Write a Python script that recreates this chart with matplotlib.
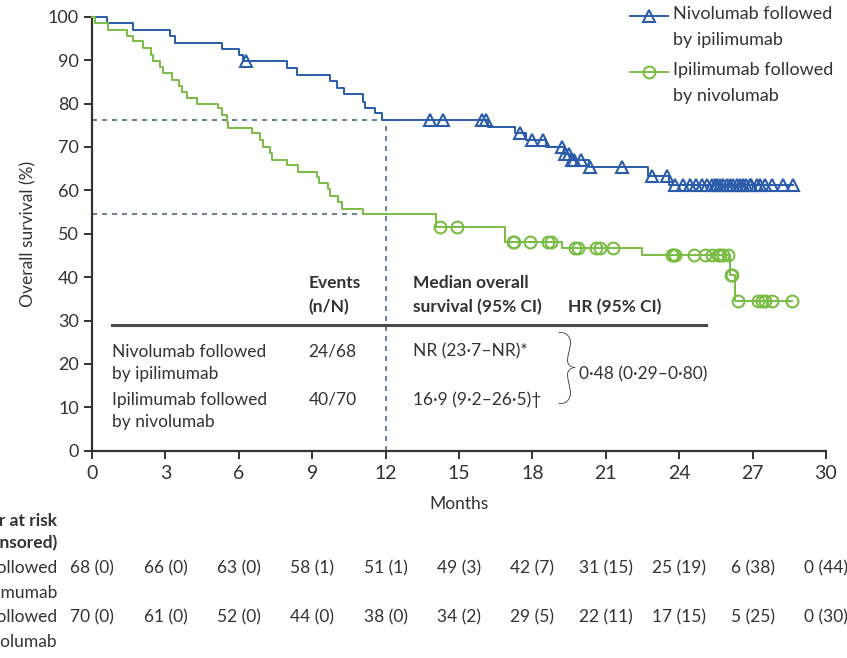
import matplotlib

matplotlib.use("Agg")
import matplotlib.pyplot as plt
import matplotlib.transforms as mtransforms
from matplotlib.lines import Line2D
import numpy as np

plt.rcParams["font.family"] = ["Lato", "DejaVu Sans"]

# Kaplan-Meier steps (months, survival %)
nivo_t = [0, 0.6, 1.69, 3.19, 3.39, 5.3, 6.02, 6.18, 7.96, 8.37, 9.73, 10.0, 10.3,
          11.06, 11.16, 11.57, 11.84, 16.2, 17.29, 17.75, 18.55, 19.3, 19.55, 20.3,
          22.74, 23.6, 28.66]
nivo_s = [100, 98.5, 96.9, 95.5, 94.0, 92.5, 91.2, 89.7, 88.1, 86.6, 85.2, 83.6, 82.1,
          80.4, 79.0, 77.7, 76.2, 74.6, 73.1, 71.6, 69.9, 68.4, 66.9, 65.4,
          63.3, 61.2, 61.2]
nivo_cens = [6.3, 13.8, 14.35, 15.95, 16.1, 17.5, 17.97, 18.44, 19.2, 19.35, 19.5,
             19.6, 19.7, 20.0, 20.35, 21.65, 22.88, 23.5, 23.83, 24.17, 24.44, 24.7,
             24.92, 25.12, 25.33, 25.45, 25.53, 25.65, 25.8, 25.95, 26.07, 26.2,
             26.35, 26.5, 26.62, 26.75, 26.89, 26.95, 27.16, 27.3, 27.5, 27.78,
             28.25, 28.66]

ipi_t = [0, 0.12, 0.67, 1.42, 1.69, 2.1, 2.4, 2.48, 2.78, 2.91, 3.26, 3.57, 3.67,
         3.87, 4.28, 5.16, 5.3, 5.5, 5.57, 6.53, 6.87, 6.98, 7.27, 7.34, 7.96, 8.43,
         9.18, 9.29, 9.66, 9.73, 10.07, 10.2, 11.06, 14.05, 16.88, 19.2, 22.5,
         26.07, 26.3, 28.6]
ipi_s = [100, 98.5, 97.0, 95.6, 94.3, 92.7, 91.2, 89.8, 88.3, 87.0, 85.4, 84.0, 82.7,
         81.3, 80.0, 78.9, 77.4, 75.8, 74.3, 73.1, 71.6, 70.0, 68.5, 67.1, 65.8, 64.3,
         63.1, 61.6, 60.2, 58.7, 57.4, 55.8, 54.5, 51.6, 48.2, 46.8, 45.0,
         40.5, 34.5, 34.5]
ipi_cens = [14.22, 14.9, 17.2, 17.25, 17.9, 18.65, 18.78, 19.74, 19.87, 20.62, 20.76,
            21.3, 23.69, 23.75, 23.83, 24.6, 25.07, 25.33, 25.6, 25.65, 25.8, 26.0,
            26.1, 26.15, 26.4, 27.24, 27.38, 27.51, 27.78, 28.6]

# survival at 12 months (dashed guides)
nivo_12 = 76.2
ipi_12 = 54.5

# numbers at risk (number censored)
risk_months = [0, 3, 6, 9, 12, 15, 18, 21, 24, 27, 30]
nivo_risk = [68, 66, 63, 58, 51, 49, 42, 31, 25, 6, 0]
nivo_risk_cens = [0, 0, 0, 1, 1, 3, 7, 15, 19, 38, 44]
ipi_risk = [70, 61, 52, 44, 38, 34, 29, 22, 17, 5, 0]
ipi_risk_cens = [0, 0, 0, 0, 0, 2, 5, 11, 15, 25, 30]

blue = "#2a5caa"
green = "#7abd45"
dash_col = "#4d6c89"
dark = "#333333"


def step_value(times, surv, x):
    idx = np.searchsorted(times, x, side="right") - 1
    return np.asarray(surv)[idx]


fig = plt.figure(figsize=(8.47, 6.58), dpi=100)
ax = fig.add_axes([0.1086, 0.315, 0.8666, 0.6596])

# dashed guides at 12 months
ax.plot([0, 12], [nivo_12, nivo_12], ls=(0, (3, 3)), color=dash_col, lw=1.2, zorder=1)
ax.plot([0, 12], [ipi_12, ipi_12], ls=(0, (3, 3)), color=dash_col, lw=1.2, zorder=1)
ax.plot([12, 12], [0, nivo_12], ls=(0, (3, 3)), color=dash_col, lw=1.2, zorder=1)

# curves
ax.step(nivo_t, nivo_s, where="post", color=blue, lw=1.4, zorder=3, clip_on=False)
ax.step(ipi_t, ipi_s, where="post", color=green, lw=1.4, zorder=3, clip_on=False)

ax.plot(nivo_cens, step_value(nivo_t, nivo_s, nivo_cens), ls="none", marker="^",
        ms=9, mfc="none", mec=blue, mew=1.5, zorder=4, clip_on=False)
ax.plot(ipi_cens, step_value(ipi_t, ipi_s, ipi_cens), ls="none", marker="o",
        ms=8.5, mfc="none", mec=green, mew=1.5, zorder=4, clip_on=False)

ax.set_xlim(0, 30)
ax.set_ylim(0, 100)
ax.set_xticks(np.arange(0, 31, 3))
ax.set_yticks(np.arange(0, 101, 10))
for side in ["top", "right"]:
    ax.spines[side].set_visible(False)
for side in ["left", "bottom"]:
    ax.spines[side].set_color(dark)
    ax.spines[side].set_linewidth(1.6)
ax.tick_params(axis="both", direction="out", length=6, width=1.4, color=dark,
               labelsize=13, labelcolor="#333333")
ax.tick_params(axis="x", pad=4, labelsize=14)
ax.set_ylabel("Overall survival (%)", fontsize=12.5, color="#333333", labelpad=8)
ax.set_xlabel("Months", fontsize=12.5, color="#333333", labelpad=10)

# summary table inside the plot
txt = dict(fontsize=12.5, color="#333333", va="center")
ax.text(8.85, 38.6, "Events", fontweight="bold", **txt)
ax.text(8.85, 33.1, "(n/N)", fontweight="bold", **txt)
ax.text(13.1, 38.6, "Median overall", fontweight="bold", **txt)
ax.text(13.1, 33.1, "survival (95% CI)", fontweight="bold", **txt)
ax.text(19.45, 33.1, "HR (95% CI)", fontweight="bold", **txt)
ax.plot([0.82, 25.1], [28.9, 28.9], color="#4a4a4a", lw=2.2, zorder=2)

ax.text(0.82, 22.8, "Nivolumab followed", **txt)
ax.text(0.82, 17.7, "by ipilimumab", **txt)
ax.text(0.82, 11.7, "Ipilimumab followed", **txt)
ax.text(0.82, 6.6, "by nivolumab", **txt)
ax.text(8.85, 22.8, "24/68", **txt)
ax.text(8.85, 11.7, "40/70", **txt)
ax.text(13.1, 22.8, "NR (23·7–NR)*", **txt)
ax.text(13.1, 11.7, "16·9 (9·2–26·5)†", **txt)
ax.text(19.4, 18.2, "}", fontsize=60, color="#333333", va="center", ha="center",
        fontweight="light")
ax.text(19.9, 17.6, "0·48 (0·29–0·80)", **txt)

# legend drawn by hand so the symbol sits on the first line
leg_items = [("Nivolumab followed\nby ipilimumab", blue, "^", 9, 1 - 16 / 658),
             ("Ipilimumab followed\nby nivolumab", green, "o", 8.5, 1 - 72 / 658)]
for label, col, mk, ms, yy in leg_items:
    fig.add_artist(Line2D([630 / 847, 649 / 847, 668 / 847], [yy, yy, yy],
                          transform=fig.transFigure, color=col, lw=1.4,
                          marker=mk, ms=ms, mfc="none", mec=col, mew=1.5,
                          markevery=[1]))
    fig.text(673 / 847, yy + 0.015, label, fontsize=13, color="#333333",
             va="top", ha="left", linespacing=1.75)

# number at risk table below the axis
trans = mtransforms.blended_transform_factory(ax.transData, fig.transFigure)
row_lab = dict(fontsize=12.5, color="#333333", ha="right", va="center", transform=trans)
ax.text(-1.43, 1 - 521 / 658, "Number at risk", fontweight="bold", **row_lab)
ax.text(-1.43, 1 - 543 / 658, "(number censored)", fontweight="bold", **row_lab)
ax.text(-1.43, 1 - 568 / 658, "Nivolumab followed", **row_lab)
ax.text(-1.43, 1 - 593 / 658, "by ipilimumab", **row_lab)
ax.text(-1.43, 1 - 617 / 658, "Ipilimumab followed", **row_lab)
ax.text(-1.43, 1 - 642 / 658, "by nivolumab", **row_lab)

for m, n, c in zip(risk_months, nivo_risk, nivo_risk_cens):
    ax.text(m, 1 - 568 / 658, f"{n} ({c})", fontsize=12.5, color="#333333",
            ha="center", va="center", transform=trans, clip_on=False)
for m, n, c in zip(risk_months, ipi_risk, ipi_risk_cens):
    ax.text(m, 1 - 617 / 658, f"{n} ({c})", fontsize=12.5, color="#333333",
            ha="center", va="center", transform=trans, clip_on=False)

fig.savefig("out.png", dpi=100)
